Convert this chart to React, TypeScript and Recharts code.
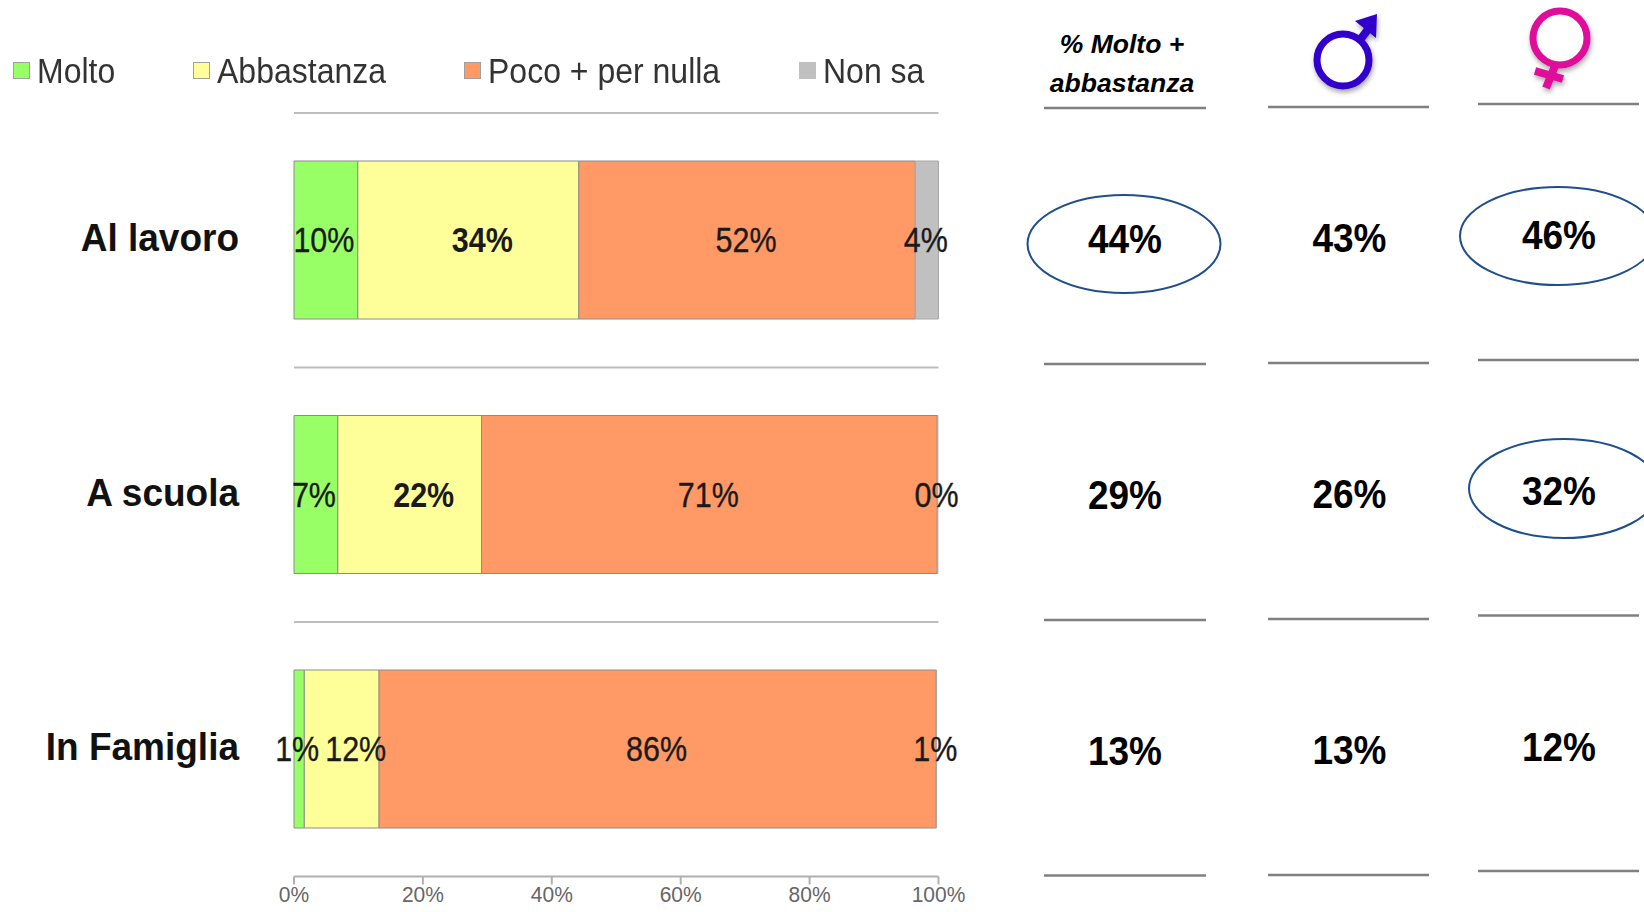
import React from 'react';
import {
  BarChart,
  Bar,
  XAxis,
  YAxis,
  CartesianGrid,
  Legend,
  LabelList,
} from 'recharts';

const categories = ['Al lavoro', 'A scuola', 'In Famiglia'];

// segment widths as measured on the bars (the printed labels are rounded)
const molto = [9.9, 6.8, 1.6];
const abbastanza = [34.3, 22.3, 11.6];
const poco = [52.2, 70.7, 86.4];
const nonSa = [3.6, 0.1, 0.1];

const moltoLabels = ['10%', '7%', '1%'];
const abbastanzaLabels = ['34%', '22%', '12%'];
const pocoLabels = ['52%', '71%', '86%'];
const nonSaLabels = ['4%', '0%', '1%'];

const xTicks = [0, 20, 40, 60, 80, 100];

const totals = ['44%', '29%', '13%'];
const male = ['43%', '26%', '13%'];
const female = ['46%', '32%', '12%'];

const FONT = '"Liberation Sans", Arial, sans-serif';
const GREEN = '#99ff66';
const YELLOW = '#ffff99';
const ORANGE = '#ff9966';
const GREY = '#c0c0c0';

const data = categories.map((name, i) => ({
  name,
  molto: molto[i],
  abbastanza: abbastanza[i],
  poco: poco[i],
  nonSa: nonSa[i],
}));

const legendItems = [
  { label: 'Molto', color: GREEN, left: 13 },
  { label: 'Abbastanza', color: YELLOW, left: 193 },
  { label: 'Poco + per nulla', color: ORANGE, left: 464 },
  { label: 'Non sa', color: GREY, left: 799 },
];

function ChartLegend() {
  return (
    <div style={{ position: 'relative', width: 1000, height: 40, fontFamily: FONT, fontSize: 32, color: '#333' }}>
      {legendItems.map((item) => (
        <div key={item.label} style={{ position: 'absolute', left: item.left, top: 0, whiteSpace: 'nowrap', lineHeight: '40px' }}>
          <span
            style={{
              position: 'absolute',
              left: 0,
              top: 11,
              width: 17,
              height: 17,
              background: item.color,
              boxSizing: 'border-box',
              border: item.color === GREY ? 'none' : '1px solid #a0a0a0',
            }}
          />
          <span style={{ display: 'inline-block', marginLeft: 24, transform: 'scaleY(1.12)' }}>{item.label}</span>
        </div>
      ))}
    </div>
  );
}

// the reference text is slightly stretched vertically, hence the scale
function segmentLabel(labels: string[], weights: number[], dx: number) {
  return (props: any) => (
    <text
      transform={`translate(${props.x + props.width / 2 + dx},${props.y + props.height / 2}) scale(1,1.18)`}
      textAnchor="middle"
      dominantBaseline="central"
      fontFamily={FONT}
      fontSize={30.5}
      fontWeight={weights[props.index]}
      stroke="#1a1a1a"
      strokeWidth={weights[props.index] === 400 ? 0.3 : 0}
      fill="#1a1a1a"
    >
      {labels[props.index]}
    </text>
  );
}

function CategoryTick({ x, y, payload }: any) {
  return (
    <text
      transform={`translate(${x},${y - 3}) scale(1,1.06)`}
      textAnchor="end"
      dominantBaseline="central"
      fontFamily={FONT}
      fontSize={37}
      fontWeight={700}
      fill="#111"
    >
      {payload.value}
    </text>
  );
}

function PercentTick({ x, y, payload }: any) {
  return (
    <text
      transform={`translate(${x},${y}) scale(1,1.08)`}
      textAnchor="middle"
      dominantBaseline="hanging"
      fontFamily={FONT}
      fontSize={21}
      fill="#666"
    >
      {`${payload.value}%`}
    </text>
  );
}

function columnLine(x1: number, x2: number, y: number) {
  return <line key={`${x1}-${y}`} x1={x1} x2={x2} y1={y} y2={y} stroke="#808080" strokeWidth={2.5} />;
}

const columns = [
  { values: totals, x: 1125, ys: [239, 495, 751], x1: 1044, x2: 1206, lines: [108, 364, 620, 875.5] },
  { values: male, x: 1349.5, ys: [238, 494, 750], x1: 1268, x2: 1429, lines: [107, 363, 619, 875] },
  { values: female, x: 1559, ys: [235, 491, 747], x1: 1478, x2: 1639, lines: [104, 360, 615.5, 871] },
];

function SideTable() {
  return (
    <svg width={1644} height={912} style={{ position: 'absolute', left: 0, top: 0 }}>
      <defs>
        <filter id="soft" x="-30%" y="-30%" width="160%" height="160%">
          <feDropShadow dx="1" dy="3" stdDeviation="2.5" floodColor="#000" floodOpacity="0.35" />
        </filter>
      </defs>

      <text x={1122} y={53} textAnchor="middle" fontFamily={FONT} fontSize={26.5} fontWeight={700} fontStyle="italic" fill="#000">
        % Molto +
      </text>
      <text x={1122} y={92} textAnchor="middle" fontFamily={FONT} fontSize={26.5} fontWeight={700} fontStyle="italic" fill="#000">
        abbastanza
      </text>

      {/* male symbol */}
      <g filter="url(#soft)">
        <circle cx={1343} cy={60} r={26} fill="#fff" stroke="#3300cc" strokeWidth={7} />
        <line x1={1360} y1={40} x2={1372} y2={24} stroke="#3300cc" strokeWidth={8} />
        <polygon points="1355,21 1377,14 1376,38" fill="#3300cc" />
      </g>

      {/* female symbol */}
      <g filter="url(#soft)">
        <circle cx={1560} cy={38} r={27} fill="#fff" stroke="#e0109a" strokeWidth={7} />
        <line x1={1555} y1={66} x2={1546} y2={88} stroke="#e0109a" strokeWidth={8} />
        <line x1={1535} y1={71} x2={1563} y2={79} stroke="#e0109a" strokeWidth={8} />
      </g>

      {columns.map((col) => col.lines.map((y) => columnLine(col.x1, col.x2, y)))}

      <ellipse cx={1124} cy={244} rx={96.5} ry={49} fill="none" stroke="#1f4e8c" strokeWidth={2} />
      <ellipse cx={1558} cy={236} rx={98} ry={49} fill="none" stroke="#1f4e8c" strokeWidth={2} />
      <ellipse cx={1564} cy={488.5} rx={95} ry={49.5} fill="none" stroke="#1f4e8c" strokeWidth={2} />

      {columns.map((col) =>
        col.values.map((v, i) => (
          <text
            key={`${col.x}-${i}`}
            transform={`translate(${col.x},${col.ys[i]}) scale(1,1.08)`}
            textAnchor="middle"
            dominantBaseline="central"
            fontFamily={FONT}
            fontSize={37}
            fontWeight={700}
            fill="#000"
          >
            {v}
          </text>
        ))
      )}
    </svg>
  );
}

export default function App() {
  return (
    <div style={{ position: 'absolute', left: 0, top: 0, width: 1644, height: 912, overflow: 'hidden', background: '#fff' }}>
      <BarChart
        width={1644}
        height={912}
        data={data}
        layout="vertical"
        margin={{ top: 73, right: 705.5, bottom: 0, left: 0 }}
        barSize={158}
      >
        <CartesianGrid
          vertical={false}
          stroke="#bdbdbd"
          strokeWidth={2}
          horizontalCoordinatesGenerator={({ offset }: any) =>
            categories.map((_, i) => offset.top + (i * offset.height) / categories.length)
          }
        />
        <XAxis
          type="number"
          domain={[0, 100]}
          ticks={xTicks}
          height={35.5}
          tick={<PercentTick />}
          tickLine={{ stroke: '#b0b0b0', strokeWidth: 2 }}
          axisLine={{ stroke: '#b0b0b0', strokeWidth: 2 }}
          tickSize={8}
          tickMargin={1}
          interval={0}
        />
        <YAxis
          type="category"
          dataKey="name"
          width={294}
          tick={<CategoryTick />}
          tickLine={false}
          axisLine={false}
          tickSize={0}
          tickMargin={55}
          interval={0}
        />
        <Legend
          verticalAlign="top"
          content={<ChartLegend />}
          wrapperStyle={{ left: 0, top: 51, width: 1000 }}
        />
        <Bar dataKey="molto" stackId="a" fill={GREEN} stroke="#8c8c8c" isAnimationActive={false}>
          <LabelList content={segmentLabel(moltoLabels, [400, 400, 400], -2)} />
        </Bar>
        <Bar dataKey="abbastanza" stackId="a" fill={YELLOW} stroke="#8c8c8c" isAnimationActive={false}>
          <LabelList content={segmentLabel(abbastanzaLabels, [700, 700, 400], 14)} />
        </Bar>
        <Bar dataKey="poco" stackId="a" fill={ORANGE} stroke="#8c8c8c" isAnimationActive={false}>
          <LabelList content={segmentLabel(pocoLabels, [400, 400, 400], -1)} />
        </Bar>
        <Bar dataKey="nonSa" stackId="a" fill={GREY} stroke="#a8a8a8" isAnimationActive={false}>
          <LabelList content={segmentLabel(nonSaLabels, [400, 400, 400], -1)} />
        </Bar>
      </BarChart>
      <SideTable />
    </div>
  );
}
